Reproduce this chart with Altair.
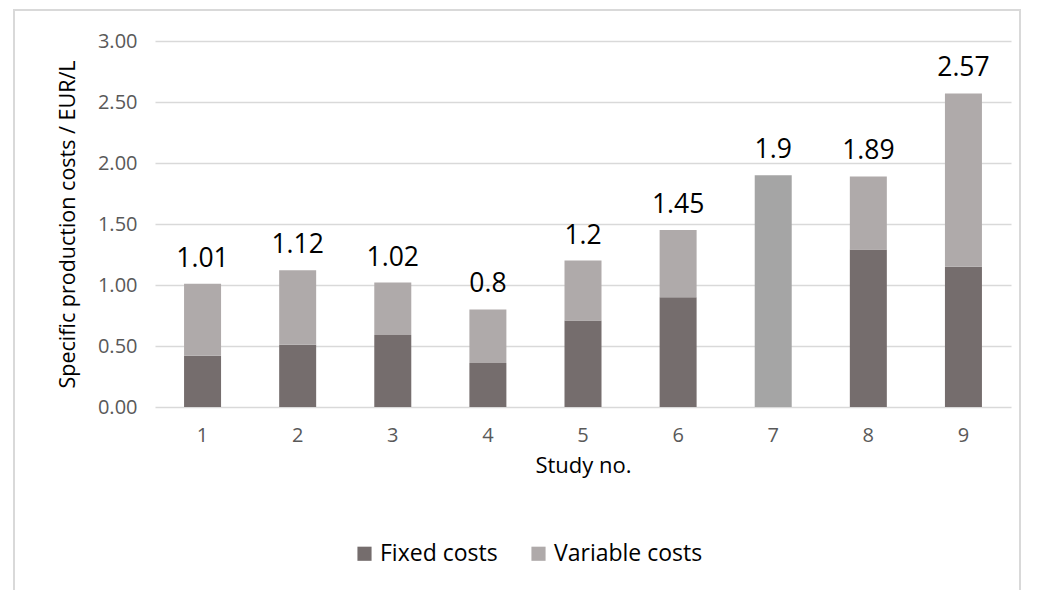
import altair as alt
import pandas as pd

# Study numbers and cost components (EUR/L)
studies = ["1", "2", "3", "4", "5", "6", "7", "8", "9"]
fixed_costs = [0.42, 0.51, 0.59, 0.36, 0.71, 0.90, None, 1.29, 1.15]
variable_costs = [0.59, 0.61, 0.43, 0.44, 0.49, 0.55, None, 0.60, 1.42]
total_costs = [1.01, 1.12, 1.02, 0.8, 1.2, 1.45, 1.9, 1.89, 2.57]
# Study 7 only reports the total, without a split
undivided = [None, None, None, None, None, None, 1.9, None, None]

series_names = ["Fixed costs", "Variable costs"]
series_colors = ["#756d6d", "#afaaaa"]
undivided_color = "#a5a5a5"

rows = []
for s, f, v in zip(studies, fixed_costs, variable_costs):
    if f is not None:
        rows.append({"study": s, "series": "Fixed costs", "value": f, "order": 0})
        rows.append({"study": s, "series": "Variable costs", "value": v, "order": 1})
stack_df = pd.DataFrame(rows)
total_df = pd.DataFrame({"study": studies, "total": total_costs})
undivided_df = pd.DataFrame({"study": studies, "total": undivided}).dropna()

W, H = 856, 366
FONT = "Open Sans"

x_enc = alt.X(
    "study:N",
    sort=studies,
    scale=alt.Scale(domain=studies, paddingInner=0.6, paddingOuter=0.3),
    axis=alt.Axis(
        title="Study no.",
        labelAngle=0,
        labelFontSize=20,
        labelColor="#595959",
        labelPadding=18,
        ticks=False,
        domain=False,
        titleFontSize=22,
        titleFontWeight="normal",
        titleColor="#000000",
        titlePadding=10,
    ),
)
y_scale = alt.Scale(domain=[0, 3])
y_axis = alt.Axis(
    title="Specific production costs / EUR/L",
    values=[0, 0.5, 1, 1.5, 2, 2.5, 3],
    format=".2f",
    labelFontSize=20,
    labelColor="#595959",
    labelPadding=18,
    ticks=False,
    domain=False,
    grid=True,
    gridColor="#d9d9d9",
    gridWidth=1.5,
    titleFontSize=21.5,
    titleFontWeight="normal",
    titleColor="#000000",
    titlePadding=18,
)

bars = alt.Chart(stack_df).mark_bar(size=37).encode(
    x=x_enc,
    y=alt.Y("value:Q", stack="zero", scale=y_scale, axis=y_axis),
    color=alt.Color(
        "series:N",
        scale=alt.Scale(domain=series_names, range=series_colors),
        legend=alt.Legend(
            title=None,
            orient="none",
            legendX=198,
            legendY=501,
            direction="horizontal",
            symbolType="square",
            symbolSize=200,
            symbolStrokeWidth=0,
            labelFontSize=23,
            labelColor="#000000",
            columnPadding=29,
            labelLimit=300,
        ),
    ),
    order=alt.Order("order:Q"),
)

single = alt.Chart(undivided_df).mark_bar(size=37, color=undivided_color).encode(
    x=alt.X("study:N", sort=studies),
    y=alt.Y("total:Q", scale=y_scale),
)

labels = alt.Chart(total_df).mark_text(
    baseline="bottom", dy=-11, fontSize=26.5, color="#000000", font=FONT
).encode(
    x=alt.X("study:N", sort=studies),
    y=alt.Y("total:Q", scale=y_scale),
    text=alt.Text("total:Q"),
)

# light outer frame around the whole figure
frame = alt.Chart(pd.DataFrame({"k": [0]})).mark_rect(
    fill=None, stroke="#d9d9d9", strokeWidth=2
).encode(
    x=alt.value(-141), x2=alt.value(865), y=alt.value(-31), y2=alt.value(600)
)

chart = (
    alt.layer(frame, bars, single, labels)
    .properties(
        width=W,
        height=H,
        autosize=alt.AutoSizeParams(type="none"),
        padding={"left": 155, "top": 41, "right": 32, "bottom": 183},
    )
    .configure(font=FONT)
    .configure_view(stroke=None)
    .configure_axis(labelFont=FONT, titleFont=FONT)
    .configure_legend(labelFont=FONT)
)

chart.save("out.html", embed_options={"renderer": "svg", "actions": False})
